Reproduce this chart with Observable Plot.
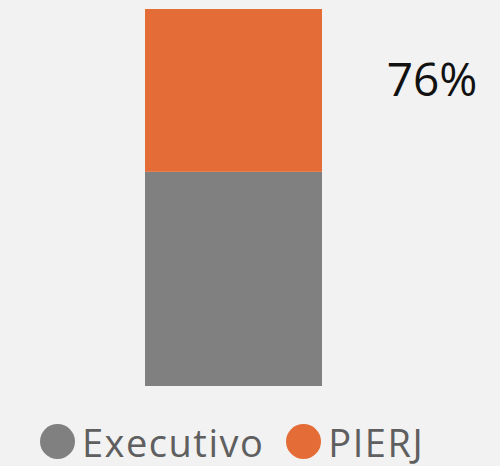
<!DOCTYPE html>
<html>
<head>
<meta charset="utf-8">
<script src="https://cdn.jsdelivr.net/npm/d3@7"></script>
<script src="https://cdn.jsdelivr.net/npm/@observablehq/plot@0.6"></script>
<style>
  html, body { margin: 0; padding: 0; background: #f2f2f2; }
  body { width: 500px; height: 466px; overflow: hidden; font-family: "Open Sans", "Noto Sans", sans-serif; }
  #legend { display: flex; align-items: center; height: 61px; padding-top: 12px; box-sizing: border-box; padding-left: 40px; color: #5f5f5f; font-size: 38px; letter-spacing: 1.5px; }
  .item { display: flex; align-items: center; margin-right: 22px; }
  .sw { width: 35px; height: 35px; border-radius: 50%; margin-right: 7px; }
</style>
</head>
<body>
<div id="chart"></div>
<div id="legend"></div>
<script>
const categories = ["Total"];
const series = ["Executivo", "PIERJ"];
const values = [100, 76];
const colors = ["#808080", "#e46c36"];
const label = ["76%"];

const data = series.map((s, i) => ({cat: categories[0], series: s, value: values[i]}));
const total = d3.sum(values);

const plot = Plot.plot({
  width: 500,
  height: 405,
  marginTop: 9,
  marginBottom: 19,
  marginLeft: 145,
  marginRight: 178,
  style: {background: "#f2f2f2", fontFamily: "Open Sans, Noto Sans, sans-serif"},
  x: {domain: categories, padding: 0, axis: null},
  y: {domain: [0, total], axis: null},
  color: {domain: series, range: colors},
  marks: [
    Plot.barY(data, Plot.stackY({x: "cat", y: "value", fill: "series", order: series})),
    Plot.text(label, {
      x: () => categories[0],
      y: () => values[0] + values[1] / 2,
      text: d => d,
      dx: 198,
      dy: -10,
      fontSize: 46,
      fill: "#111",
      textAnchor: "middle"
    })
  ]
});
document.getElementById("chart").appendChild(plot);

const legend = document.getElementById("legend");
series.forEach((s, i) => {
  const it = document.createElement("div");
  it.className = "item";
  const sw = document.createElement("div");
  sw.className = "sw";
  sw.style.background = colors[i];
  const t = document.createElement("span");
  t.textContent = s;
  it.appendChild(sw);
  it.appendChild(t);
  legend.appendChild(it);
});
</script>
</body>
</html>
